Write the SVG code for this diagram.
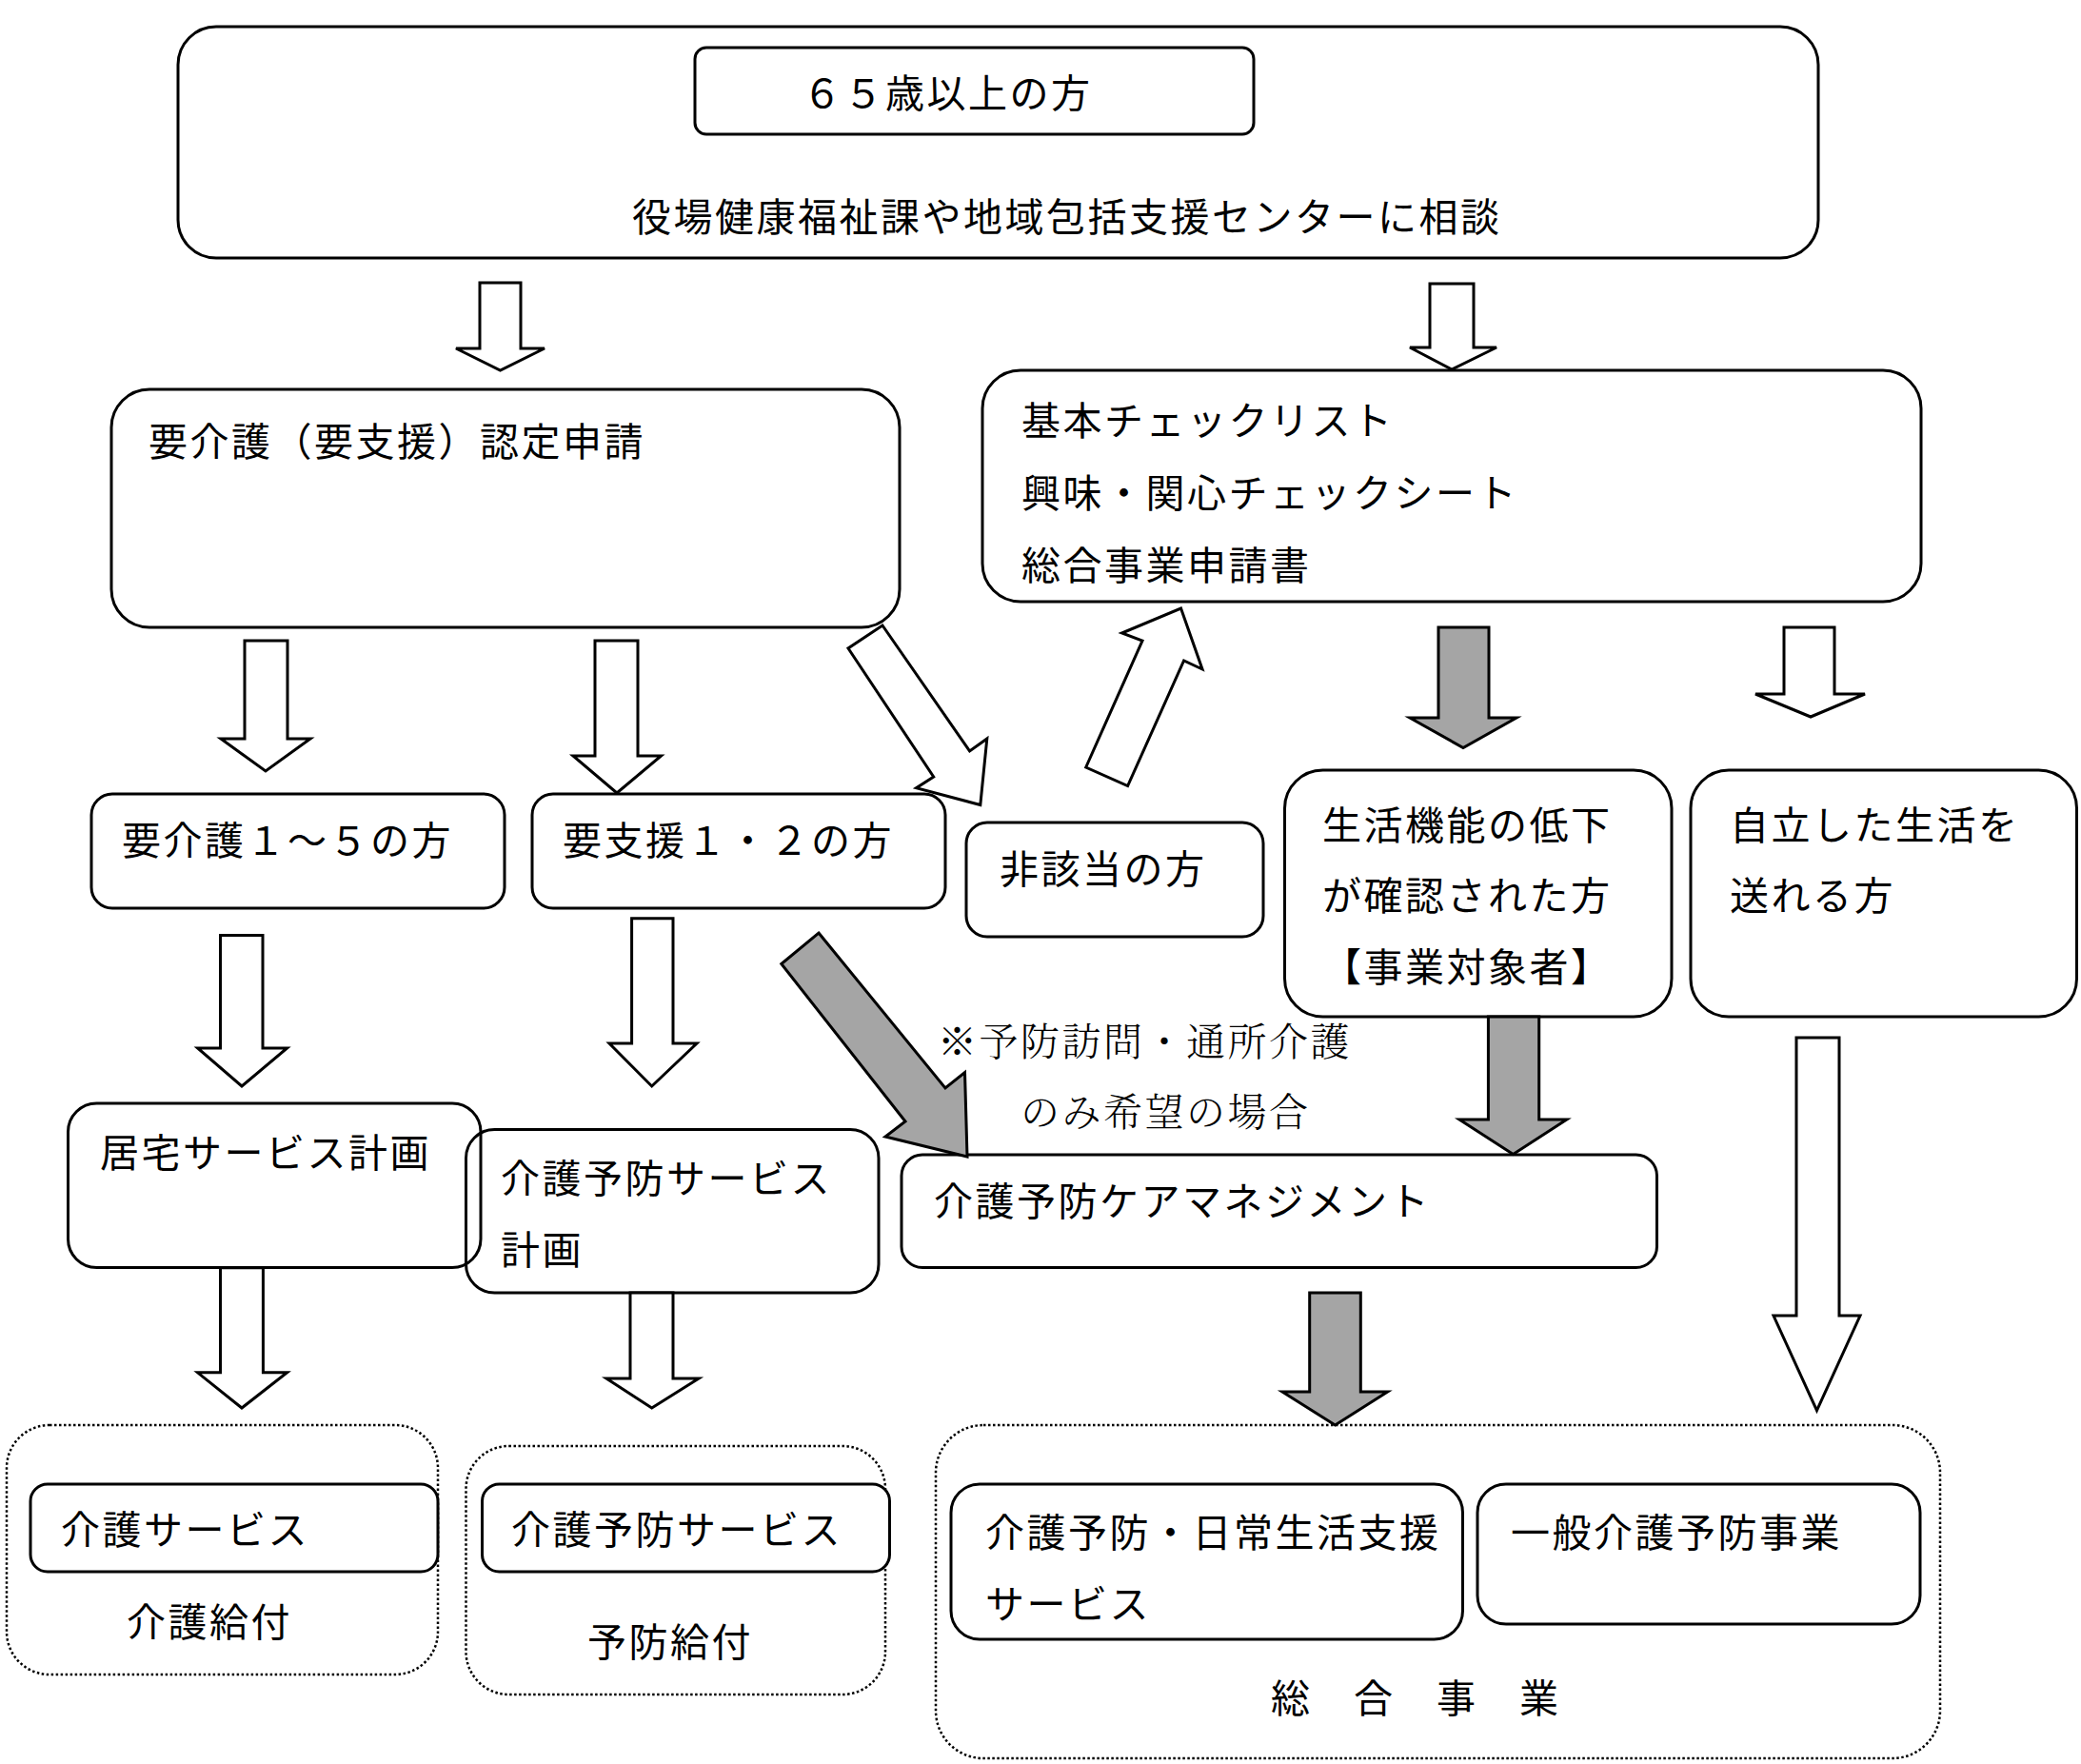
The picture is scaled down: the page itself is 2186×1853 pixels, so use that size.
<svg xmlns="http://www.w3.org/2000/svg" width="2186" height="1853" viewBox="0 0 2186 1853">
<style>
.box{fill:#fff;stroke:#000;stroke-width:3}
.open{fill:none;stroke:#000;stroke-width:3}
.dot{fill:none;stroke:#000;stroke-width:2.5;stroke-dasharray:2.5 2.5}
.ha{fill:#fff;stroke:#000;stroke-width:3;stroke-linejoin:miter}
.ga{fill:#a5a5a5;stroke:#000;stroke-width:3;stroke-linejoin:miter}
text{font-family:"Noto Sans CJK JP","Noto Sans",sans-serif;font-size:41px;letter-spacing:2.5px;fill:#000}
.note{font-family:"Noto Serif CJK JP","Noto Sans CJK JP",serif;font-weight:300}
</style>
<rect width="2186" height="1853" fill="#fff"/>

<g id="top">
<rect class="box" x="187" y="28" width="1723" height="243" rx="40"/>
<text x="664" y="243">役場健康福祉課や地域包括支援センターに相談</text>
</g>
<g id="age65">
<rect class="box" x="730" y="50" width="587" height="91" rx="12"/>
<text x="843" y="113">６５歳以上の方</text>
</g>

<g id="shinsei">
<rect class="box" x="117" y="409" width="828" height="250" rx="40"/>
<text x="156" y="479">要介護（要支援）認定申請</text>
</g>

<g id="checklist">
<rect class="box" x="1032" y="389" width="986" height="243" rx="40"/>
<text x="1073" y="457">基本チェックリスト</text>
<text x="1073" y="533">興味・関心チェックシート</text>
<text x="1073" y="609">総合事業申請書</text>
</g>

<g id="yokaigo">
<rect class="box" x="96" y="834" width="434" height="120" rx="22"/>
<text x="128" y="898">要介護１～５の方</text>
</g>
<g id="yoshien">
<rect class="box" x="559" y="834" width="434" height="120" rx="22"/>
<text x="591" y="898">要支援１・２の方</text>
</g>
<g id="higaito">
<rect class="box" x="1015" y="864" width="312" height="120" rx="22"/>
<text x="1050" y="928">非該当の方</text>
</g>
<g id="seikatsu">
<rect class="box" x="1349.5" y="809" width="406.5" height="259" rx="40"/>
<text x="1389" y="882">生活機能の低下</text>
<text x="1389" y="956">が確認された方</text>
<text x="1389" y="1031">【事業対象者】</text>
</g>
<g id="jiritsu">
<rect class="box" x="1776" y="809" width="405.5" height="259" rx="40"/>
<text x="1817" y="882">自立した生活を</text>
<text x="1817" y="956">送れる方</text>
</g>

<g id="kyotaku">
<rect class="open" x="71.5" y="1159" width="433.5" height="172.5" rx="30"/>
<text x="105" y="1226">居宅サービス計画</text>
</g>
<g id="yobokeikaku">
<rect class="open" x="489.5" y="1186.5" width="433.5" height="171.5" rx="30"/>
<text x="526" y="1253">介護予防サービス</text>
<text x="526" y="1328">計画</text>
</g>
<g id="caremanage">
<rect class="box" x="947" y="1213" width="793.5" height="118.5" rx="22"/>
<text x="981" y="1277">介護予防ケアマネジメント</text>
</g>

<g id="note">
<text class="note" x="985" y="1109">※予防訪問・通所介護</text>
<text class="note" x="1072" y="1183">のみ希望の場合</text>
</g>

<g id="kaigokyufu">
<rect class="dot" x="7" y="1497" width="453" height="262" rx="45"/>
<rect class="box" x="32" y="1559" width="428" height="92" rx="18"/>
<text x="64" y="1622">介護サービス</text>
<text x="133" y="1719">介護給付</text>
</g>
<g id="yobokyufu">
<rect class="dot" x="489.5" y="1519" width="440.5" height="261" rx="45"/>
<rect class="box" x="506.5" y="1559" width="428" height="92" rx="18"/>
<text x="537" y="1622">介護予防サービス</text>
<text x="617" y="1740">予防給付</text>
</g>
<g id="sogo">
<rect class="dot" x="983" y="1497" width="1055" height="350" rx="50"/>
<rect class="box" x="999" y="1559" width="537.5" height="163" rx="30"/>
<text x="1035" y="1625">介護予防・日常生活支援</text>
<text x="1035" y="1700">サービス</text>
<rect class="box" x="1552" y="1559" width="465" height="147" rx="30"/>
<text x="1587" y="1625">一般介護予防事業</text>
<text x="1335" y="1799">総　合　事　業</text>
</g>

<g id="connectors">
<polygon class="ha" points="504,297 547,297 547,366 572,366 525.5,389 479,366 504,366"/>
<polygon class="ha" points="1502,298 1548,298 1548,365 1572,365 1525,388 1481,365 1502,365"/>
<polygon class="ha" points="257,673 302,673 302,776 326,776 279,810 232,776 257,776"/>
<polygon class="ha" points="625,673 670,673 670,794 694.5,794 648,833 602,794 625,794"/>
<polygon class="ha" points="927,657 1018.6,789 1036.8,776 1029.8,845.5 962.5,827.7 980.7,816 891,681"/>
<polygon class="ha" points="1140.7,806 1200,673 1178.5,665 1240.5,639 1263,703 1243.6,694 1184.6,825.6"/>
<polygon class="ga" points="1511,659 1564,659 1564,754 1593,754 1537,785.5 1481,754 1511,754"/>
<polygon class="ha" points="1874,659 1927,659 1927,729 1959,729 1902,753 1844,729 1874,729"/>
<polygon class="ha" points="231.5,982.6 276,982.6 276,1101 301.6,1101 254,1141 207.6,1101 231.5,1101"/>
<polygon class="ha" points="663.6,964.7 707,964.7 707,1096 732,1096 684.7,1141 640,1096 663.6,1096"/>
<polygon class="ga" points="860,980 993,1143 1013.5,1126.5 1016,1215 930,1194 951,1178 820.8,1012.5"/>
<polygon class="ga" points="1563.4,1068 1616.7,1068 1616.7,1176 1645.8,1176 1589.5,1212.5 1533,1176 1563.4,1176"/>
<polygon class="ga" points="1375.7,1358 1429.3,1358 1429.3,1462 1457.6,1462 1402.5,1497 1347,1462 1375.7,1462"/>
<polygon class="ha" points="1887,1090 1932,1090 1932,1382 1954,1382 1908.5,1481.6 1863,1382 1887,1382"/>
<polygon class="ha" points="231.5,1331.7 276.4,1331.7 276.4,1441.8 301.6,1441.8 254,1479 207.6,1441.8 231.5,1441.8"/>
<polygon class="ha" points="662,1358 707,1358 707,1448 734,1448 684.7,1479 637,1448 662,1448"/>
</g>
</svg>
